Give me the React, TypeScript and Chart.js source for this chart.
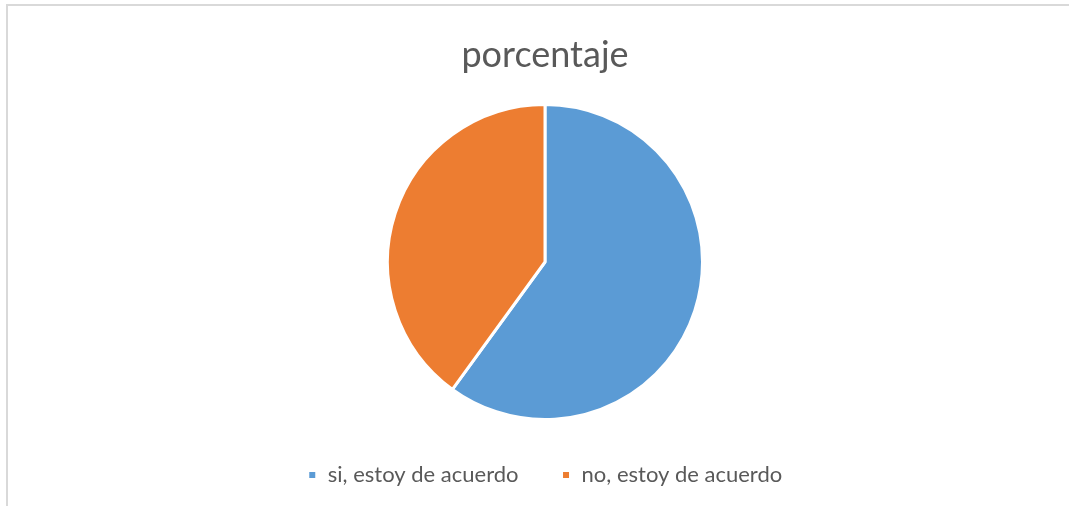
import React, { useEffect, useRef } from "react";
import { Chart, registerables } from "chart.js";

Chart.register(...registerables);

const categories = ["si, estoy de acuerdo", "no, estoy de acuerdo"];
const values = [60, 40];
const colors = ["#5B9BD5", "#ED7D31"];
const chartTitle = "porcentaje";

export default function App() {
  const ref = useRef<HTMLCanvasElement | null>(null);

  useEffect(() => {
    if (!ref.current) return;
    const chart = new Chart(ref.current, {
      type: "pie",
      data: {
        labels: categories,
        datasets: [
          {
            data: values,
            backgroundColor: colors,
            borderColor: "#ffffff",
            borderWidth: 3,
          },
        ],
      },
      options: {
        responsive: false,
        animation: false,
        layout: { padding: { left: 21, right: 0, top: 0, bottom: 10 } },
        plugins: {
          title: {
            display: true,
            text: chartTitle,
            color: "#595959",
            font: { family: "Lato", size: 36, weight: "normal", lineHeight: 1.2 },
            padding: { top: 33.4, bottom: 26.4 },
          },
          legend: {
            display: true,
            position: "bottom",
            labels: {
              color: "#595959",
              font: { family: "Lato", size: 22 },
              boxWidth: 9,
              boxHeight: 9,
              padding: 43,
            },
          },
          tooltip: { enabled: false },
        },
      },
    });
    return () => chart.destroy();
  }, []);

  return (
    <div style={{ position: "fixed", left: 0, top: 0, width: 1069, height: 506, overflow: "hidden", background: "#fff" }}>
      <div
        style={{
          position: "absolute",
          left: 6,
          top: 4,
          width: 1100,
          height: 600,
          border: "2px solid #d9d9d9",
          boxSizing: "border-box",
        }}
      />
      <canvas ref={ref} width={1069} height={506} style={{ position: "absolute", left: 0, top: 0 }} />
    </div>
  );
}
